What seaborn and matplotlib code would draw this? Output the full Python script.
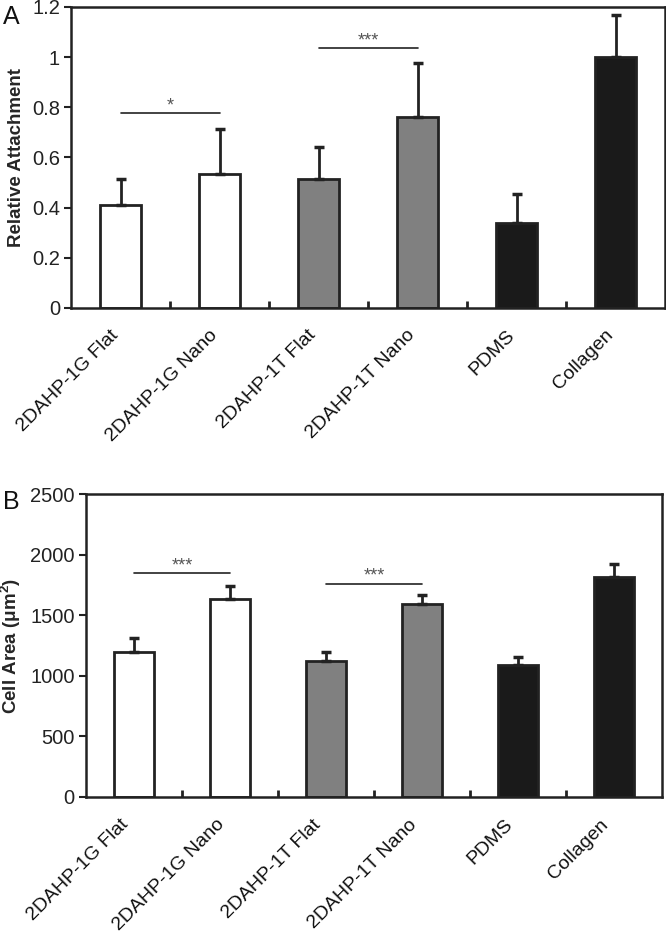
import matplotlib
matplotlib.use("Agg")
import matplotlib.pyplot as plt
import matplotlib.transforms as mtrans
import seaborn as sns
import pandas as pd
import numpy as np
from matplotlib.ticker import FuncFormatter, FixedLocator

categories = ["2DAHP-1G Flat", "2DAHP-1G Nano", "2DAHP-1T Flat",
              "2DAHP-1T Nano", "PDMS", "Collagen"]
attach_mean = [0.41, 0.535, 0.515, 0.76, 0.34, 1.00]
attach_err = [0.105, 0.18, 0.125, 0.215, 0.115, 0.17]
area_mean = [1200, 1635, 1120, 1595, 1085, 1820]
area_err = [110, 105, 80, 75, 70, 100]
bar_colors = ["#ffffff", "#ffffff", "#808080", "#808080", "#1a1a1a", "#1a1a1a"]

sig_A = [(0, 1, 0.777, "*"), (2, 3, 1.035, "***")]
sig_B = [(0, 1, 1850, "***"), (2, 3, 1762, "***")]

sns.set_theme(style="white")
plt.rcParams['font.family'] = ['Liberation Sans', 'DejaVu Sans']
plt.rcParams['mathtext.default'] = 'regular'

fig = plt.figure(figsize=(6.66, 9.33), dpi=100)
axA = fig.add_axes([0.1066, 0.6699, 0.892, 0.3226])
axB = fig.add_axes([0.1291, 0.1461, 0.8649, 0.3241])

edge = "#222222"


def draw(ax, means, errs, sigs, ylim, yticks, ylabel, star_off, pad, dx):
    df = pd.DataFrame({"cat": categories, "val": means})
    sns.barplot(data=df, x="cat", y="val", hue="cat", palette=bar_colors,
                order=categories, hue_order=categories, legend=False,
                width=0.41, edgecolor=edge, linewidth=2.0, ax=ax,
                errorbar=None, saturation=1)
    x = np.arange(len(categories))
    ax.errorbar(x, means, yerr=[np.zeros(len(means)), errs], fmt="none",
                ecolor=edge, elinewidth=2.0, capsize=3.5, capthick=2.5,
                zorder=1)
    for i, j, h, s in sigs:
        ax.plot([x[i], x[j]], [h, h], color="#222222", lw=1.2)
        ax.text((x[i] + x[j]) / 2, h + star_off, s, ha="center", va="bottom",
                fontsize=13, color="#555555")
    ax.set_xlim(-0.5, len(categories) - 0.5)
    ax.set_ylim(*ylim)
    ax.set_yticks(yticks)
    ax.yaxis.set_major_formatter(FuncFormatter(lambda v, p: f"{v:g}"))
    ax.set_xlabel("")
    ax.set_ylabel(ylabel, fontsize=13.5, fontweight="bold", labelpad=5)
    for sp in ax.spines.values():
        sp.set_visible(True)
        sp.set_color("#222222")
        sp.set_linewidth(1.8)
    ax.tick_params(axis="y", direction="out", length=5, width=1.5,
                   labelsize=14.5, colors="#222222", left=True, pad=3)
    ax.tick_params(axis="x", which="major", length=0, pad=pad, labelsize=14)
    ax.xaxis.set_minor_locator(FixedLocator(np.arange(0.5, len(categories) - 1, 1.0)))
    ax.tick_params(axis="x", which="minor", direction="in", length=5,
                   width=2, colors="#222222", bottom=True)
    ax.set_xticks(x)
    ax.set_xticklabels(categories, rotation=45, ha="right", va="top",
                       rotation_mode="anchor", color="#111111")
    off = mtrans.ScaledTranslation(dx / 100, 0, fig.dpi_scale_trans)
    for lab in ax.get_xticklabels():
        lab.set_transform(lab.get_transform() + off)


draw(axA, attach_mean, attach_err, sig_A, (0, 1.2),
     [0, 0.2, 0.4, 0.6, 0.8, 1.0, 1.2], "Relative Attachment", -0.005, 13.5, -11)
draw(axB, area_mean, area_err, sig_B, (0, 2500),
     [0, 500, 1000, 1500, 2000, 2500], r"Cell Area ($\mu$m$^{2}$)", -10, 14, -14)

fig.text(0.005, 0.995, "A", fontsize=18, ha="left", va="top", color="#111111")
fig.text(0.005, 0.475, "B", fontsize=18, ha="left", va="top", color="#111111")

fig.savefig("out.png", dpi=100)
